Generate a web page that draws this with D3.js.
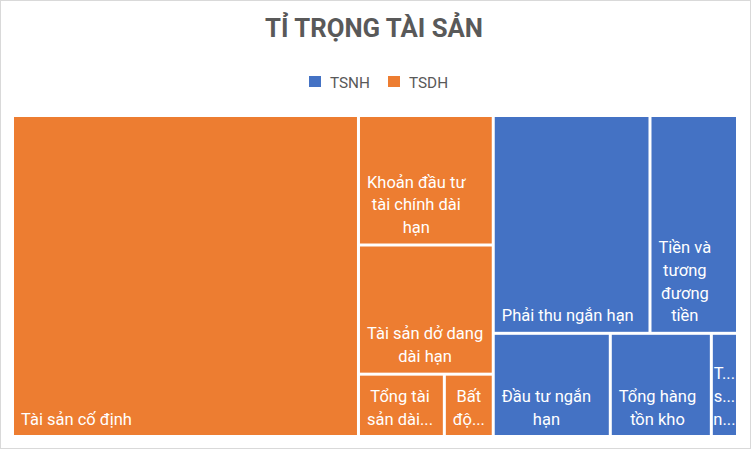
<!DOCTYPE html>
<html>
<head>
<meta charset="utf-8">
<script src="https://cdn.jsdelivr.net/npm/d3@7"></script>
<style>
	body { margin: 0; background: #fff; }
	svg { display: block; }
</style>
</head>
<body>
<svg id="chart"></svg>
<script>
const w = 751
const h = 451

// groups (legend order) and colours
const groups = ['TSNH', 'TSDH']
const group_colors = ['#4472C4', '#ED7D31']

// leaves: name, group, share of total assets (%)
const categories = [
	'Tài sản cố định',
	'Khoản đầu tư tài chính dài hạn',
	'Tài sản dở dang dài hạn',
	'Tổng tài sản dài hạn khác',
	'Bất động sản đầu tư',
	'Phải thu ngắn hạn',
	'Tiền và tương đương tiền',
	'Đầu tư ngắn hạn',
	'Tổng hàng tồn kho',
	'Tài sản ngắn hạn khác'
]
const parents = ['TSDH', 'TSDH', 'TSDH', 'TSDH', 'TSDH', 'TSNH', 'TSNH', 'TSNH', 'TSNH', 'TSNH']
const values = [47.72, 7.50, 7.48, 2.30, 1.31, 14.67, 8.19, 5.19, 4.48, 1.16]

const title = 'TỈ TRỌNG TÀI SẢN'
const font = 'Roboto, "Open Sans", sans-serif'
const margin = { left: 14, top: 117, right: 15, bottom: 16 }
const innerWidth = w - margin.left - margin.right
const innerHeight = h - margin.top - margin.bottom
const line_h = 22.7
const pad_x = 7
const pad_bottom = 10.5

const SVG = d3.select('#chart')
	.attr('width', w)
	.attr('height', h)

SVG.append('rect')
	.attr('x', 0.5).attr('y', 0.5)
	.attr('width', w - 1).attr('height', h - 3)
	.attr('fill', '#fff')
	.attr('stroke', '#d9d9d9')

// hidden text for measuring
const probe = SVG.append('text').attr('font-family', font).attr('visibility', 'hidden')
function text_width(s, size, weight) {
	probe.attr('font-size', size).attr('font-weight', weight || 'normal').text(s)
	return probe.node().getComputedTextLength()
}
// pick a font size that gives the same width as the reference text
function fit_size(sample, target, weight) {
	return 100 * target / text_width(sample, 100, weight)
}

const title_size = fit_size(title, 218, 'bold')
const legend_size = fit_size('TSNH', 40)
const label_size = fit_size('Tài sản cố định', 111)

SVG.append('text')
	.attr('x', 374)
	.attr('y', 37)
	.attr('text-anchor', 'middle')
	.attr('font-family', font)
	.attr('font-weight', 'bold')
	.attr('font-size', title_size)
	.attr('fill', '#595959')
	.text(title)

// legend
const color = d3.scaleOrdinal(groups, group_colors)
const legend_x = [309, 388]
const legend = SVG.selectAll('.legend').data(groups).enter().append('g')
	.attr('class', 'legend')
	.attr('transform', (_, i) => `translate(${legend_x[i]}, 76)`)
legend.append('rect')
	.attr('width', 12).attr('height', 11)
	.attr('fill', d => color(d))
legend.append('text')
	.attr('x', 21)
	.attr('y', 12)
	.attr('font-family', font)
	.attr('font-size', legend_size)
	.attr('fill', '#595959')
	.text(d => d)

// hierarchy
const tree = {
	name: 'root',
	children: groups.map(g => ({
		name: g,
		children: categories
			.map((c, i) => ({ name: c, group: parents[i], value: values[i] }))
			.filter(d => d.group == g)
	}))
}
const root = d3.hierarchy(tree)
	.sum(d => d.value || 0)
	.sort((a, b) => b.value - a.value)

d3.treemap()
	.size([innerWidth, innerHeight])
	.paddingInner(3)
	.tile(d3.treemapSquarify)(root)

const inner = SVG.append('g')
	.attr('transform', `translate(${margin.left}, ${margin.top})`)

const leaves = root.leaves()

inner.selectAll('rect').data(leaves).enter().append('rect')
	.attr('x', d => d.x0)
	.attr('y', d => d.y0)
	.attr('width', d => d.x1 - d.x0)
	.attr('height', d => d.y1 - d.y0)
	.attr('fill', d => color(d.data.group))

function ellipsize(s, max_w) {
	const chars = Array.from(s)
	let n = chars.length
	while (n > 1 && text_width(chars.slice(0, n).join('').trimEnd() + '...', label_size) > max_w) n--
	return chars.slice(0, n).join('').trimEnd() + '...'
}

function wrap_label(name, max_w, max_lines) {
	const words = name.split(' ')
	let lines = []
	let cur = ''
	words.forEach(word => {
		const test = cur ? cur + ' ' + word : word
		if (!cur || text_width(test, label_size) <= max_w) cur = test
		else { lines.push(cur); cur = word }
	})
	lines.push(cur)
	const cut = lines.length > max_lines
	lines = lines.slice(0, max_lines)
	return lines.map((l, i) => {
		const last = i == lines.length - 1
		if (text_width(l, label_size) <= max_w && !(last && cut)) return l
		return ellipsize(l, max_w)
	})
}

const labels = inner.selectAll('.label').data(leaves).enter().append('g')
	.attr('class', 'label')
	.each(function (d) {
		const cw = d.x1 - d.x0
		const ch = d.y1 - d.y0
		const max_lines = Math.max(1, Math.floor((ch - 12) / line_h))
		const lines = wrap_label(d.data.name, cw - 2 * (pad_x - 1), max_lines)
		const block_w = d3.max(lines, l => text_width(l, label_size))
		// narrow cells: the block is centred instead of padded
		const left = Math.max(0, Math.min(pad_x, (cw - block_w) / 2))
		const cx = d.x0 + left + block_w / 2
		const last_y = d.y1 - pad_bottom
		d3.select(this).selectAll('text').data(lines).enter().append('text')
			.attr('x', cx)
			.attr('y', (_, i) => last_y - (lines.length - 1 - i) * line_h)
			.attr('text-anchor', 'middle')
			.attr('font-family', font)
			.attr('font-size', label_size)
			.attr('fill', '#fff')
			.text(l => l)
	})

probe.remove()
</script>
</body>
</html>
